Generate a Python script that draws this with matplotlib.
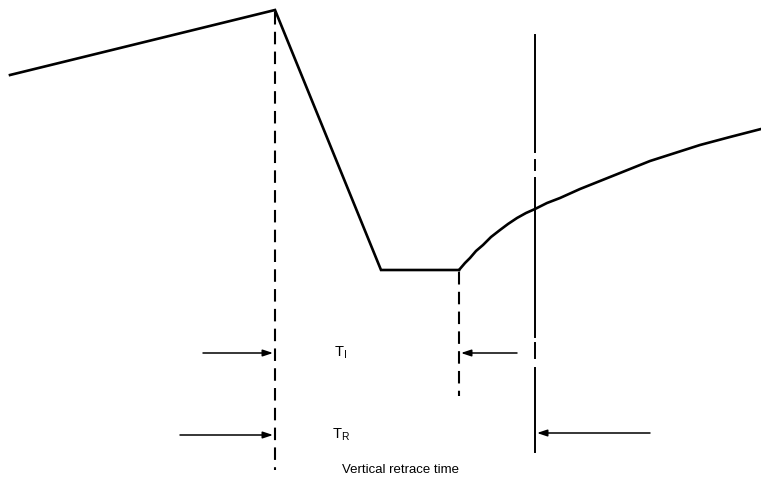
import numpy as np
import matplotlib.pyplot as plt

W, H = 761, 482

# waveform (pixel coords, y down)
wave_x = [10, 275, 381, 459]
wave_y = [75, 10, 270, 270]
curve_x = [459, 465, 470, 476, 483, 491, 500, 508, 517, 526, 535, 547, 560, 580, 600, 625, 650, 675, 700, 730, 761]
curve_y = [270, 263, 258, 251, 245, 237, 230, 224, 218, 213, 209, 203, 198, 189, 181, 171, 161, 153, 145, 137, 129]

# vertical markers
retrace_start = 275
interval_end = 459
retrace_end = 535

# right marker: solid pieces with small breaks
right_segs = [(35, 152), (160, 170), (178, 337), (343, 358), (368, 452)]

# arrows (tail_x, head_x, y)
arrows = [(203, 273, 353), (517, 461, 353), (180, 273, 435), (650, 537, 433)]

labels = ["$\\mathregular{T_I}$", "$\\mathregular{T_R}$"]
label_y = [353, 435]
caption = "Vertical retrace time"


fig = plt.figure(figsize=(W / 100, H / 100), dpi=100)
ax = fig.add_axes([0, 0, 1, 1])
ax.set_xlim(0, W)
ax.set_ylim(H, 0)
ax.axis("off")

ax.plot(wave_x, wave_y, color="black", lw=1.9, solid_joinstyle="miter")
ax.plot(curve_x, curve_y, color="black", lw=1.9, solid_joinstyle="round")

ax.plot([retrace_start, retrace_start], [12, 470], color="black", lw=1.5,
        dashes=(6, 3.5))
ax.plot([interval_end, interval_end], [272, 396], color="black", lw=1.5,
        dashes=(6, 3.5))
for y0, y1 in right_segs:
    ax.plot([retrace_end, retrace_end], [y0, y1], color="black", lw=1.4)

for x0, x1, y in arrows:
    ax.annotate("", xy=(x1, y), xytext=(x0, y),
                arrowprops=dict(arrowstyle="-|>,head_length=0.6,head_width=0.2",
                                color="black", lw=1.1, shrinkA=0, shrinkB=0))

for lab, y in zip(labels, label_y):
    ax.text(341, y, lab, fontsize=10.5, ha="center", va="center",
            family="Liberation Sans")
ax.text(400, 470, caption, fontsize=9.5, ha="center", va="center",
        family="Liberation Sans")

fig.savefig("out.png", dpi=100)
